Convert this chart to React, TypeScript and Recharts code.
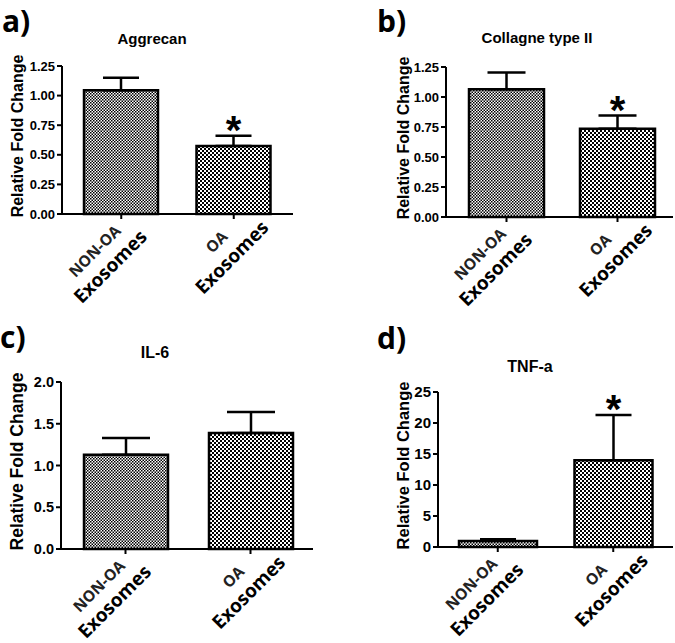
import { Bar, BarChart, Cell, ErrorBar, LabelList, XAxis, YAxis } from "recharts";

const FONT = '"Liberation Sans", Arial, sans-serif';
const LABEL_FONT = '"Open Sans", "Noto Sans", sans-serif';

// categories (two-line tick labels)
const categoryNames = ["NON-OA Exosomes", "OA Exosomes"];
const categoryTop = ["NON-OA", "OA"];
const categoryBottom = ["Exosomes", "Exosomes"];

const panelLetters = ["a)", "b)", "c)", "d)"];
const panelTitles = ["Aggrecan", "Collagne type II", "IL-6", "TNF-a"];

// means and upper error (SEM)
const aggrecanMean = [1.045, 0.575];
const aggrecanSem = [0.105, 0.085];
const aggrecanSig = ["", "*"];

const collagenMean = [1.065, 0.735];
const collagenSem = [0.14, 0.11];
const collagenSig = ["", "*"];

const il6Mean = [1.13, 1.39];
const il6Sem = [0.2, 0.25];
const il6Sig = ["", ""];

const tnfMean = [0.95, 14.0];
const tnfSem = [0.3, 7.3];
const tnfSig = ["", "*"];

const fractionTicks = [0, 0.25, 0.5, 0.75, 1, 1.25];
const il6Ticks = [0, 0.5, 1, 1.5, 2];
const tnfTicks = [0, 5, 10, 15, 20, 25];

type Row = { name: string; mean: number; sem: number; err: number[]; sig: string };

const buildRows = (means: number[], sems: number[], sig: string[]): Row[] =>
  categoryNames.map((name, i) => ({
    name,
    mean: means[i],
    sem: sems[i],
    err: [0, sems[i]],
    sig: sig[i],
  }));

// layout of each panel (page coordinates)
const panels = [
  {
    id: "a", rows: buildRows(aggrecanMean, aggrecanSem, aggrecanSig), ticks: fractionTicks, decimals: 2,
    left: 0, top: 0, width: 300, height: 320, marginTop: 66, marginRight: 7, yWidth: 62, xHeight: 106,
    padL: 3, padR: 3, barSize: 74, cap: 18, tickFont: 13, labelFont: 16,
    letterX: 2, letterY: 32, titleX: 152, titleY: 44, titleFont: 15,
  },
  {
    id: "b", rows: buildRows(collagenMean, collagenSem, collagenSig), ticks: fractionTicks, decimals: 2,
    left: 386, top: 0, width: 289, height: 320, marginTop: 67, marginRight: 2, yWidth: 60, xHeight: 103,
    padL: 5, padR: 0, barSize: 75, cap: 19, tickFont: 13, labelFont: 16,
    letterX: 377, letterY: 32, titleX: 537, titleY: 43, titleFont: 15,
  },
  {
    id: "c", rows: buildRows(il6Mean, il6Sem, il6Sig), ticks: il6Ticks, decimals: 1,
    left: 0, top: 320, width: 320, height: 323, marginTop: 62, marginRight: 7, yWidth: 61, xHeight: 94,
    padL: 2, padR: 0, barSize: 84, cap: 24, tickFont: 14.5, labelFont: 17.5,
    letterX: 0, letterY: 348, titleX: 155, titleY: 358, titleFont: 16,
  },
  {
    id: "d", rows: buildRows(tnfMean, tnfSem, tnfSig), ticks: tnfTicks, decimals: 0,
    left: 386, top: 320, width: 289, height: 323, marginTop: 72, marginRight: 2, yWidth: 52, xHeight: 96,
    padL: 2, padR: 2, barSize: 78, cap: 18, tickFont: 15, labelFont: 16.5,
    letterX: 377, letterY: 349, titleX: 530, titleY: 372, titleFont: 16,
  },
];

const tickShift = [-45, -32];

const CategoryTick = (p: any) => {
  let i = typeof p.index === "number" ? p.index : categoryNames.indexOf(p.payload?.value);
  if (i < 0) i = 0;
  const u = tickShift[i] ?? -40;
  return (
    <g transform={`translate(${p.x},${p.y - 5}) rotate(-45)`}>
      <text x={u} y={13} textAnchor="middle" fontFamily={LABEL_FONT} fontSize={15.5} fontWeight={700} fill="#222">
        {categoryTop[i]}
      </text>
      <text x={u} y={36} textAnchor="middle" fontFamily={LABEL_FONT} fontSize={19} fontWeight={700} fill="#000">
        {categoryBottom[i]}
      </text>
    </g>
  );
};

const renderStar = (rows: Row[]) => (p: any) => {
  const row = rows[p.index];
  if (!row || !row.sig) return null;
  const vb = p.viewBox ?? p;
  const x = Number(vb.x);
  const y = Number(vb.y);
  const w = Number(vb.width);
  const h = Number(vb.height);
  const errTop = y - (row.sem * h) / row.mean;
  return (
    <text x={x + w / 2} y={errTop + 8} textAnchor="middle" fontFamily={FONT} fontSize={40} fontWeight={700} fill="#000">
      {row.sig}
    </text>
  );
};

function Panel({ cfg }: { cfg: (typeof panels)[number] }) {
  const fine = `${cfg.id}-fine`;
  const coarse = `${cfg.id}-coarse`;
  const max = cfg.ticks[cfg.ticks.length - 1];
  return (
    <div style={{ position: "absolute", left: cfg.left, top: cfg.top }}>
      <BarChart
        width={cfg.width}
        height={cfg.height}
        data={cfg.rows}
        margin={{ top: cfg.marginTop, right: cfg.marginRight, bottom: 0, left: 0 }}
      >
        <defs>
          <pattern id={fine} width={3} height={3} patternUnits="userSpaceOnUse">
            <rect width={3} height={3} fill="#fff" />
            <rect width={1.5} height={1.5} fill="#000" />
            <rect x={1.5} y={1.5} width={1.5} height={1.5} fill="#000" />
          </pattern>
          <pattern id={coarse} width={4} height={4} patternUnits="userSpaceOnUse">
            <rect width={4} height={4} fill="#fff" />
            <rect width={2} height={2} fill="#000" />
            <rect x={2} y={2} width={2} height={2} fill="#000" />
          </pattern>
        </defs>
        <XAxis
          dataKey="name"
          height={cfg.xHeight}
          interval={0}
          padding={{ left: cfg.padL, right: cfg.padR }}
          axisLine={{ stroke: "#000", strokeWidth: 2 }}
          tickLine={{ stroke: "#000", strokeWidth: 2 }}
          tickSize={5}
          tickMargin={0}
          tick={<CategoryTick />}
        />
        <YAxis
          width={cfg.yWidth}
          domain={[0, max]}
          ticks={cfg.ticks}
          interval={0}
          axisLine={{ stroke: "#000", strokeWidth: 2 }}
          tickLine={{ stroke: "#000", strokeWidth: 2 }}
          tickSize={5}
          tickMargin={2}
          tickFormatter={(v: number) => v.toFixed(cfg.decimals)}
          tick={{ fill: "#000", fontSize: cfg.tickFont, fontWeight: 700, fontFamily: FONT }}
          label={{
            content: (p: any) => {
              const vb = p.viewBox ?? { x: 0, y: cfg.marginTop, width: cfg.yWidth, height: 150 };
              return (
                <text
                  transform={`translate(${vb.x + 17},${vb.y + vb.height / 2 - 4}) rotate(-90)`}
                  textAnchor="middle"
                  dominantBaseline="central"
                  fontFamily={FONT}
                  fontSize={cfg.labelFont}
                  fontWeight={700}
                  fill="#000"
                >
                  Relative Fold Change
                </text>
              );
            },
          }}
        />
        <Bar dataKey="mean" barSize={cfg.barSize} stroke="#000" strokeWidth={2.5} isAnimationActive={false}>
          {cfg.rows.map((r, i) => (
            <Cell key={r.name} fill={`url(#${i === 0 ? fine : coarse})`} />
          ))}
          <ErrorBar dataKey="err" width={cfg.cap} stroke="#000" strokeWidth={2.5} direction="y" />
          <LabelList dataKey="sig" content={renderStar(cfg.rows)} />
        </Bar>
      </BarChart>
    </div>
  );
}

export default function App() {
  return (
    <div style={{ position: "absolute", left: 0, top: 0, width: 675, height: 643, background: "#fff", overflow: "hidden" }}>
      <svg width={675} height={643} style={{ position: "absolute", left: 0, top: 0 }}>
        {panels.map((cfg, i) => (
          <g key={cfg.id}>
            <text x={cfg.letterX} y={cfg.letterY} fontFamily={LABEL_FONT} fontSize={30} fontWeight={700} fill="#000">
              {panelLetters[i]}
            </text>
            <text x={cfg.titleX} y={cfg.titleY} textAnchor="middle" fontFamily={FONT} fontSize={cfg.titleFont} fontWeight={700} fill="#000">
              {panelTitles[i]}
            </text>
          </g>
        ))}
      </svg>
      {panels.map((cfg) => (
        <Panel key={cfg.id} cfg={cfg} />
      ))}
    </div>
  );
}
